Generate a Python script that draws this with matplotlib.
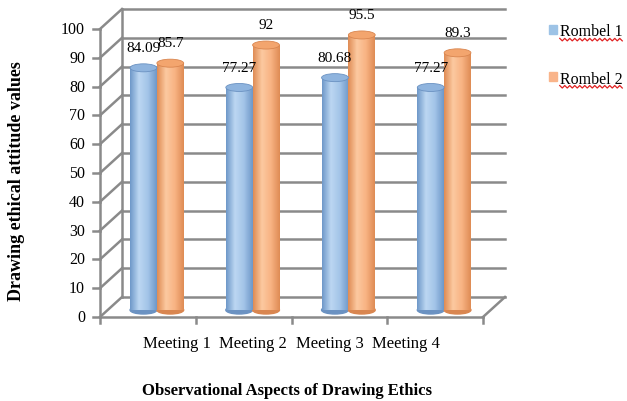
import numpy as np
import matplotlib
matplotlib.use("Agg")
import matplotlib.pyplot as plt
from matplotlib.patches import Ellipse, Patch
from matplotlib.colors import LinearSegmentedColormap

meetings = ["Meeting 1", "Meeting 2", "Meeting 3", "Meeting 4"]
rombel1 = [84.09, 77.27, 80.68, 77.27]
rombel2 = [85.7, 92, 95.5, 89.3]
series_names = ["Rombel 1", "Rombel 2"]
yticks = list(range(0, 101, 10))

serif = "Liberation Serif"
W, H = 627, 402
fig = plt.figure(figsize=(W / 100, H / 100), dpi=100)
# front plane of the pseudo-3d box
ax = fig.add_axes([100 / W, 84 / H, 383 / W, 288 / H])
ax.set_xlim(-0.5, 3.5)
ax.set_ylim(0, 100)
ax.axis("off")

px_x = 383 / 4.0
px_y = 288 / 100.0
dx, dy = 22 / px_x, 20 / px_y      # depth of the box
mx, my = 9 / px_x, 7 / px_y        # bars sit mid-depth
x0, x1 = -0.5, 3.5

grid = dict(color="#8a8a8a", lw=1.8, clip_on=False, zorder=1)
for v in yticks:
    ax.plot([x0, x0 + dx], [v, v + dy], **grid)
    ax.plot([x0 + dx, x1 + dx], [v + dy, v + dy], **grid)
    ax.plot([x0 - 7 / px_x, x0], [v, v], **grid)
    ax.text(x0 - 15 / px_x, v, str(v), ha="right", va="center",
            fontsize=11.5, family=serif)
ax.plot([x0, x0], [0, 100], **grid)
ax.plot([x0 + dx, x0 + dx], [dy, 100 + dy], **grid)
ax.plot([x0, x1], [0, 0], **grid)
ax.plot([x1, x1 + dx], [0, dy], **grid)
for b in np.arange(-0.5, 4.0, 1.0):
    ax.plot([b, b], [0, -6 / px_y], **grid)

styles = [
    dict(off=-0.14, cols=["#6f98c9", "#bcd7f2", "#a3c4e8", "#6f98c9"],
         top="#8fb4de", edge="#6b92c2", leg="#9dc3e6"),
    dict(off=0.14, cols=["#df8c55", "#fcc9a0", "#f8b383", "#df8c55"],
         top="#f3a56e", edge="#d98650", leg="#f9b48a"),
]
width = 0.28
eh = 8 / px_y
grad = np.linspace(0, 1, 64).reshape(1, -1)

for vals, st in zip([rombel1, rombel2], styles):
    cmap = LinearSegmentedColormap.from_list("cyl", st["cols"])
    for i, v in enumerate(vals):
        x = i + st["off"] + mx
        ax.add_patch(Ellipse((x, my), width, eh, color=st["edge"],
                             zorder=1.9, clip_on=False))
        bar = ax.bar(x, v, width, bottom=my, color=st["cols"][2],
                     zorder=2, clip_on=False)[0]
        im = ax.imshow(grad, extent=[x - width / 2, x + width / 2, my, my + v],
                       aspect="auto", cmap=cmap, zorder=2.1)
        im.set_clip_path(bar)
        ax.add_patch(Ellipse((x, my + v), width, eh, facecolor=st["top"],
                             edgecolor=st["edge"], lw=0.6, zorder=2.2,
                             clip_on=False))
        ax.annotate(f"{v:g}", (x, my + v), xytext=(0, 10),
                    textcoords="offset points", ha="center", va="bottom",
                    fontsize=11, family=serif)

ax.set_xlim(-0.5, 3.5)
ax.set_ylim(0, 100)

# Excel squeezed the category labels together
for i, m in enumerate(meetings):
    ax.annotate(m, (1.5 + (i - 1.5) * 0.8, 0), xytext=(0, -13),
                textcoords="offset points", ha="center", va="top",
                fontsize=12, family=serif)

fig.text(287 / W, 1 - 391 / H, "Observational Aspects of Drawing Ethics",
         ha="center", va="center", fontsize=12, fontweight="bold", family=serif)
fig.text(17 / W, 1 - 181 / H, "Drawing ethical attitude values", rotation=90,
         ha="center", va="center", fontsize=13, fontweight="bold", family=serif)

handles = [Patch(color=st["leg"]) for st in styles]
leg = fig.legend(handles, series_names, loc="upper left",
                 bbox_to_anchor=(535 / W, 1 - 10 / H), frameon=False,
                 prop={"family": serif, "size": 11.5}, handlelength=0.5,
                 handleheight=0.5, handletextpad=0.15, labelspacing=1.95)

# red spell-check squiggle under legend labels
fig.canvas.draw()
r = fig.canvas.get_renderer()
for t in leg.get_texts():
    bb = t.get_window_extent(r)
    xs = np.arange(bb.x0, bb.x1, 2.5)
    ys = bb.y0 + 1 + np.where(np.arange(len(xs)) % 2 == 0, 0.0, -2.5)
    fig.add_artist(plt.Line2D(xs / W, ys / H, color="#e02020", lw=0.9))

fig.savefig("out.png", dpi=100)
plt.close(fig)
